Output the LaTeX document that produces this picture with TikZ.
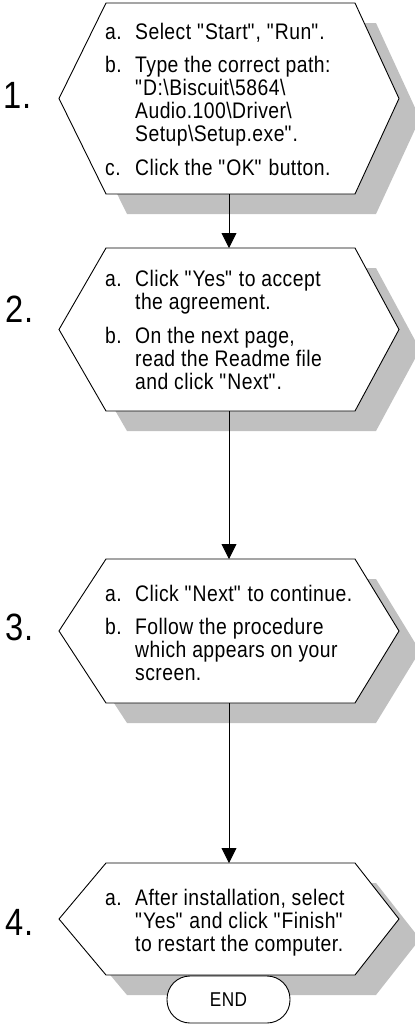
\documentclass[tikz,border=0pt]{standalone}
\usepackage{fontspec}
\setmainfont{Liberation Sans}[FakeStretch=0.86,LetterSpace=2]
\usetikzlibrary{arrows.meta}
\definecolor{shadowgray}{HTML}{C0C0C0}
\newcommand\hexpath[2]{(106,#1) -- (355,#1) -- (399,{(#1+#2)/2}) -- (355,#2) -- (106,#2) -- (59,{(#1+#2)/2}) -- cycle}
\newcommand\qq{\textquotedbl}
\newcommand\bs{\textbackslash}
\begin{document}
\begin{tikzpicture}[x=1pt,y=-1pt,
  shadowbox/.style={fill=shadowgray,draw=none},
  hexbox/.style={fill=white,draw=black,line width=0.9pt},
  txt/.style={anchor=base west,inner sep=0pt,font=\fontsize{22.5}{24}\selectfont},
  numlabel/.style={anchor=base west,inner sep=0pt,font=\fontsize{38}{40}\selectfont},
  flow/.style={line width=0.9pt,-{Triangle[length=15pt,width=15pt]}},
  endbox/.style={draw=black,fill=white,line width=0.9pt,rounded corners=23pt,minimum width=123pt,minimum height=47pt,inner sep=0pt,font=\fontsize{20}{22}\selectfont}]
\useasboundingbox (0,0) rectangle (415,1026);
% shadows
\begin{scope}[shift={(21,20)}]
  \fill[shadowbox] \hexpath{3}{194};
  \fill[shadowbox] \hexpath{248}{411};
  \fill[shadowbox] \hexpath{559}{703};
  \fill[shadowbox] \hexpath{863}{975};
\end{scope}
% hexagons
\draw[hexbox] \hexpath{3}{194};
\draw[hexbox] \hexpath{248}{411};
\draw[hexbox] \hexpath{559}{703};
\draw[hexbox] \hexpath{863}{975};
% anchor coordinates
\coordinate (h1b) at (229,194);
\coordinate (h2t) at (229,248);
\coordinate (h2b) at (229,411);
\coordinate (h3t) at (229,559);
\coordinate (h3b) at (229,703);
\coordinate (h4t) at (229,863);
% connectors
\draw[flow] (h1b) -- (h2t);
\draw[flow] (h2b) -- (h3t);
\draw[flow] (h3b) -- (h4t);
% step numbers
\node[numlabel] (n1) at (3,108) {1.};
\node[numlabel] (n2) at (5,322) {2.};
\node[numlabel] (n3) at (5,640) {3.};
\node[numlabel] (n4) at (5,935) {4.};
% step 1 text
\node[txt] (s1a) at (105,39) {a.};
\node[txt] (s1at) at (135,39) {Select \qq Start\qq, \qq Run\qq.};
\node[txt] (s1b) at (105,72.5) {b.};
\node[txt] (s1bt) at (135,72.5) {Type the correct path:};
\node[txt] (s1c1) at (135,95.5) {\qq D:\bs Biscuit\bs 5864\bs};
\node[txt] (s1c2) at (135,118.5) {Audio.100\bs Driver\bs};
\node[txt] (s1c3) at (135,141.5) {Setup\bs Setup.exe\qq.};
\node[txt] (s1c) at (105,175) {c.};
\node[txt] (s1ct) at (135,175) {Click the \qq OK\qq\ button.};
% step 2 text
\node[txt] (s2a) at (105,286.5) {a.};
\node[txt] (s2at) at (135,286.5) {Click \qq Yes\qq\ to accept};
\node[txt] (s2a2) at (135,309.5) {the agreement.};
\node[txt] (s2b) at (105,343) {b.};
\node[txt] (s2bt) at (135,343) {On the next page,};
\node[txt] (s2b2) at (135,366) {read the Readme file};
\node[txt] (s2b3) at (135,389) {and click \qq Next\qq.};
% step 3 text
\node[txt] (s3a) at (105,601) {a.};
\node[txt] (s3at) at (135,601) {Click \qq Next\qq\ to continue.};
\node[txt] (s3b) at (105,634.5) {b.};
\node[txt] (s3bt) at (135,634.5) {Follow the procedure};
\node[txt] (s3b2) at (135,657.5) {which appears on your};
\node[txt] (s3b3) at (135,680.5) {screen.};
% step 4 text
\node[txt] (s4a) at (105,905) {a.};
\node[txt] (s4at) at (135,905) {After installation, select};
\node[txt] (s4a2) at (135,928) {\qq Yes\qq\ and click \qq Finish\qq};
\node[txt] (s4a3) at (135,951) {to restart the computer.};
% end
\node[endbox] (endnode) at (228.5,999.5) {END};
\end{tikzpicture}
\end{document}
